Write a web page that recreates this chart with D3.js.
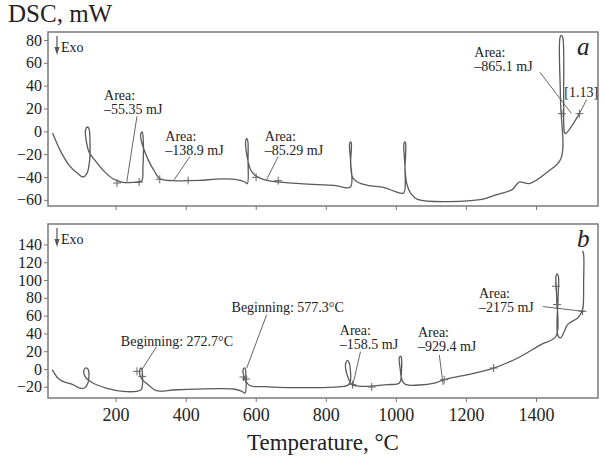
<!DOCTYPE html>
<html>
<head>
<meta charset="utf-8">
<script src="https://cdn.jsdelivr.net/npm/d3@7"></script>
<style>
  body { margin: 0; background: #fff; }
  svg text { font-family: "Liberation Serif", "Times New Roman", serif; fill: #222; }
  .axis text { font-size: 18px; }
  .axis.yax text { font-size: 16px; }
  .axis line { stroke: #777; }
  .axis path { display: none; }
</style>
</head>
<body>
<svg id="chart" width="604" height="459"></svg>
<script>
// temperature axis (°C)
const tempTicks = [200, 400, 600, 800, 1000, 1200, 1400];
const ticksA = [-60, -40, -20, 0, 20, 40, 60, 80];
const ticksB = [-20, 0, 20, 40, 60, 80, 100, 120, 140];

// curve a: [T °C, DSC mW], in drawing order (loops go back in T)
const curveA = [
  [20, -1.5], [44, -18], [68, -30], [92, -37], [106, -40], [118, -37], [126, -25], [127, -11],
  [124, 2.3], [119, 3.8], [114, 1], [116, -8], [124, -18], [140, -25], [164, -34], [192, -41.5],
  [221, -44.7], [250, -44.7], [274, -43.5], [278, -31], [279, -8], [276, -0.6], [272, -2],
  [273, -8], [280, -15], [293, -25], [312, -35.6], [326, -41.5], [364, -43.2], [441, -43],
  [488, -41.8], [546, -42.3], [569, -44.4], [576, -45.8], [578, -25.4], [577, -7.9], [574, -6.4],
  [571, -9.3], [574, -19.6], [584, -32.7], [598, -38.5], [632, -43], [727, -45.8], [824, -47.3],
  [870, -48.8], [871, -25.4], [873, -10.8], [871, -9.3], [868, -10.8], [870, -22.5], [876, -40],
  [890, -44.4], [919, -47.3], [967, -49.3], [995, -52.3], [1022, -54], [1026, -31.2], [1028, -10.8],
  [1026, -9.3], [1023, -10.8], [1025, -25.4], [1031, -45.8], [1043, -54.6], [1062, -59.6],
  [1246, -59.6], [1281, -56], [1333, -50.8], [1352, -44.4], [1381, -45.8], [1433, -35.6],
  [1471, -24], [1470, 27], [1469, 82.6], [1473, 84], [1477, 81], [1479, 27], [1481, -0.6],
  [1484, -2], [1524, 15.5]
];

// curve b
const curveB = [
  [19, -0.75], [35, -10.1], [49, -13.9], [78, -17.6], [97, -21.4], [111, -21.4], [121, -15.8],
  [124, -6.4], [122, -0.75], [118, 1.1], [112, 0.4], [109, -4.5], [116, -10.1], [135, -15.8],
  [173, -21.4], [221, -25.1], [259, -25.1], [273, -23.3], [276, -2.6], [273, 1.1], [269, -0.75],
  [269, -6.4], [276, -12], [293, -17.6], [316, -24.4], [374, -23.3], [536, -22.5], [560, -25.1],
  [569, -27], [572, -6.4], [569, 1.1], [564, -0.75], [565, -6.4], [572, -13.9], [584, -18.8],
  [632, -19.9], [727, -21], [852, -19.5], [862, -18.4], [870, -13.9], [870, -0.75], [867, 6.8],
  [862, 9.8], [857, 6.8], [857, -0.75], [864, -10.1], [871, -15.8], [881, -18.4], [919, -19.5],
  [976, -17.6], [1010, -15.8], [1016, -2.6], [1014, 14.3], [1010, 13.1], [1012, 1.1], [1019, -13.9],
  [1029, -17.6], [1110, -15.8], [1138, -12], [1205, -6.4], [1279, 1.1], [1348, 12.4], [1414, 27.4],
  [1457, 36.8], [1459, 79.9], [1457, 104], [1460, 107], [1464, 104], [1463, 79.9], [1462, 38.6],
  [1470, 34.9], [1481, 42.4], [1490, 49.9], [1519, 57.4], [1529, 63], [1534, 68.6], [1536, 98.6],
  [1536, 128.7], [1533, 133]
];

// integration limit markers (+)
const marksA = [[204, -45.3], [267, -44.4], [326, -42], [407, -43], [601, -40.3], [664, -43.2], [1474, 15.5], [1524, 15.5]];
const marksB = [[261, -2.6], [276, -8.3], [565, -9], [572, -11.3], [876, -17.6], [931, -20.3], [1138, -12], [1279, 1.1], [1457, 93], [1460, 72.4], [1533, 65]];

// annotations: text lines, text anchor [T, mW], leader line ends
const notesA = [
  { lines: ["Area:", "–55.35 mJ"], at: [167, 27.2], leader: [[261, 13.2], [232, -44.1]] },
  { lines: ["Area:", "–138.9 mJ"], at: [342, -8.9], leader: [[412, -22.1], [367, -42.4]] },
  { lines: ["Area:", "–85.29 mJ"], at: [626, -8.9], leader: [[664, -22.1], [631, -42.4]] },
  { lines: ["Area:", "–865.1 mJ"], at: [1224, 64.9], leader: [[1411, 51.8], [1501, 15.7]] },
  { lines: ["[1.13]"], at: [1481, 29.8], leader: [[1524, 15.5], [1545, 28]] }
];
const notesB = [
  { lines: ["Beginning: 272.7°C"], at: [215, 26.3], leader: [[317, 25.1], [274, -1.1]] },
  { lines: ["Beginning: 577.3°C"], at: [531, 64.6], leader: [[631, 60.8], [574, 0.8]] },
  { lines: ["Area:", "–158.5 mJ"], at: [840, 38.3], leader: [[899, 19.5], [876, -20]] },
  { lines: ["Area:", "–929.4 mJ"], at: [1063, 36.4], leader: [[1124, 15.8], [1135, -18]] },
  { lines: ["Area:", "–2175 mJ"], at: [1237, 79.7], leader: [[1420, 70.2], [1539, 64.6]] }
];

const svg = d3.select("#chart");
const left = 48, right = 598;

const x = d3.scaleLinear().domain([7, 1577]).range([left, right]);

const panels = [
  { key: "a", top: 32, bottom: 206, domain: [-65.4, 87], ticks: ticksA, curve: curveA, marks: marksA, notes: notesA, labels: false },
  { key: "b", top: 224, bottom: 398, domain: [-32.6, 163], ticks: ticksB, curve: curveB, marks: marksB, notes: notesB, labels: true }
];

panels.forEach(p => {
  const y = d3.scaleLinear().domain(p.domain).range([p.bottom, p.top]);
  const g = svg.append("g");

  g.append("g")
    .attr("class", "axis yax")
    .attr("transform", `translate(${left},0)`)
    .call(d3.axisLeft(y).tickValues(p.ticks).tickSize(4).tickPadding(2));

  g.append("g")
    .attr("class", "axis")
    .attr("transform", `translate(0,${p.bottom})`)
    .call(d3.axisBottom(x).tickValues(tempTicks).tickSize(4).tickPadding(6)
      .tickFormat(p.labels ? d3.format("d") : () => ""));

  g.append("rect")
    .attr("x", left).attr("y", p.top)
    .attr("width", right - left).attr("height", p.bottom - p.top)
    .attr("fill", "none").attr("stroke", "#7a7a7a").attr("stroke-width", 1.5);

  // Exo arrow
  g.append("line")
    .attr("x1", left + 9).attr("x2", left + 9)
    .attr("y1", p.top + 4).attr("y2", p.top + 18)
    .attr("stroke", "#555").attr("stroke-width", 1.2);
  g.append("path")
    .attr("d", `M${left + 6.5},${p.top + 15}L${left + 11.5},${p.top + 15}L${left + 9},${p.top + 23}Z`)
    .attr("fill", "#555");
  g.append("text")
    .attr("x", left + 13).attr("y", p.top + 20)
    .attr("font-size", 14).text("Exo");

  const line = d3.line()
    .x(d => x(d[0]))
    .y(d => y(d[1]))
    .curve(d3.curveCatmullRom.alpha(0.5));

  g.append("path")
    .datum(p.curve)
    .attr("d", line)
    .attr("fill", "none")
    .attr("stroke", "#5a5a5a")
    .attr("stroke-width", 1.3);

  g.selectAll(".mark")
    .data(p.marks)
    .enter()
    .append("path")
    .attr("transform", d => `translate(${x(d[0])},${y(d[1])})`)
    .attr("d", "M-4,0H4M0,-4V4")
    .attr("stroke", "#666")
    .attr("stroke-width", 1);

  p.notes.forEach(n => {
    g.append("line")
      .attr("x1", x(n.leader[0][0])).attr("y1", y(n.leader[0][1]))
      .attr("x2", x(n.leader[1][0])).attr("y2", y(n.leader[1][1]))
      .attr("stroke", "#555").attr("stroke-width", 0.9);
    const t = g.append("text")
      .attr("x", x(n.at[0])).attr("y", y(n.at[1]))
      .attr("font-size", 14);
    n.lines.forEach((s, i) => {
      t.append("tspan").attr("x", x(n.at[0])).attr("dy", i ? 14 : 0).text(s);
    });
  });

  g.append("text")
    .attr("x", 577).attr("y", p.top + 23)
    .attr("font-size", 25).attr("font-style", "italic")
    .text(p.key);
});

svg.append("text")
  .attr("x", 8).attr("y", 22)
  .attr("font-size", 25)
  .text("DSC, mW");

svg.append("text")
  .attr("x", (left + right) / 2).attr("y", 450)
  .attr("text-anchor", "middle")
  .attr("font-size", 23)
  .text("Temperature, °C");
</script>
</body>
</html>
